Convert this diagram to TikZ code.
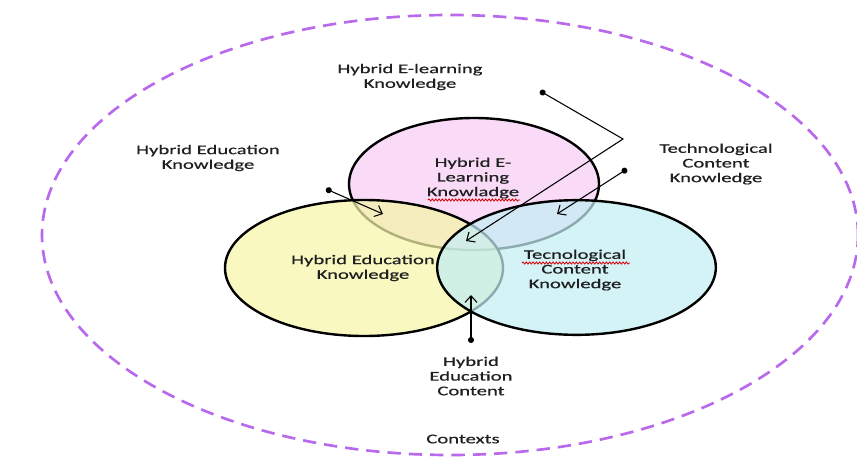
\documentclass[tikz,border=0pt]{standalone}
\usepackage{fontspec}
\setmainfont{Carlito}[FakeStretch=1.55,FakeBold=0.6]
\usetikzlibrary{shapes.geometric,arrows.meta,decorations.pathmorphing}
\definecolor{ctxcol}{RGB}{185,105,235}
\definecolor{pinkf}{RGB}{246,205,244}
\definecolor{yelf}{RGB}{245,245,168}
\definecolor{cyanf}{RGB}{195,238,244}
\tikzset{
  lbl/.style={align=center, font=\fontsize{10}{11}\selectfont, text=black!88},
  venn/.style={ellipse, draw=black, line width=1.8pt, fill opacity=0.72, inner sep=0pt},
  conn/.style={line width=0.8pt, {Circle[length=4.5pt]}-{Straight Barb[length=5pt,width=9pt]}},
  spellwave/.style={draw=red!85!black, line width=0.6pt, decorate, decoration={snake, amplitude=0.8pt, segment length=2.5pt}},
}
\begin{document}
\begin{tikzpicture}[x=0.75pt,y=-0.75pt]
\useasboundingbox (0,0) rectangle (857,457);
% outer context ellipse
\node[ellipse, draw=ctxcol, line width=2pt, dash pattern=on 10pt off 6pt,
      minimum width=612pt, minimum height=330pt, inner sep=0pt] (ctx) at (450,235) {};
% venn ellipses
\node[venn, fill=pinkf, minimum width=187.5pt, minimum height=99pt] (pink) at (474,184) {};
\node[venn, fill=yelf, minimum width=208.5pt, minimum height=102pt] (yel) at (364,268) {};
\node[venn, fill=cyanf, minimum width=209pt, minimum height=101pt] (cyan) at (576.5,267.5) {};
% spell-check wavy underlines
\coordinate (w1a) at (428,200);
\coordinate (w1b) at (520,200);
\coordinate (w2a) at (522,263);
\coordinate (w2b) at (630,263);
\draw[spellwave] (w1a) -- (w1b);
\draw[spellwave] (w2a) -- (w2b);
% inner labels
\node[lbl] (iPink) at (473,178) {Hybrid E-\\Learning\\Knowladge};
\node[lbl] (iYel) at (363,268) {Hybrid Education\\Knowledge};
\node[lbl] (iCyan) at (575,270) {Tecnological\\Content\\Knowledge};
% outer labels
\node[lbl] (tHEL) at (410,77) {Hybrid E-learning\\Knowledge};
\node[lbl] (tHEK) at (208,158) {Hybrid Education\\Knowledge};
\node[lbl] (tTCK) at (716,164) {Technological\\Content\\Knowledge};
\node[lbl] (tHEC) at (471,376) {Hybrid\\Education\\Content};
\node[lbl] (tCtx) at (463,439) {Contexts};
% connector points
\coordinate (d1) at (326,189);
\coordinate (a1) at (383,214);
\coordinate (d2) at (540,91);
\coordinate (b2) at (623,139);
\coordinate (a2) at (466,241);
\coordinate (d3) at (627,169);
\coordinate (a3) at (557,214);
\coordinate (d4) at (471,343);
\coordinate (a4) at (471,295);
\draw[conn] (d1) -- (a1);
\draw[conn] (d2) -- (b2) -- (a2);
\draw[conn] (d3) -- (a3);
\draw[conn] (d4) -- (a4);
\end{tikzpicture}
\end{document}
